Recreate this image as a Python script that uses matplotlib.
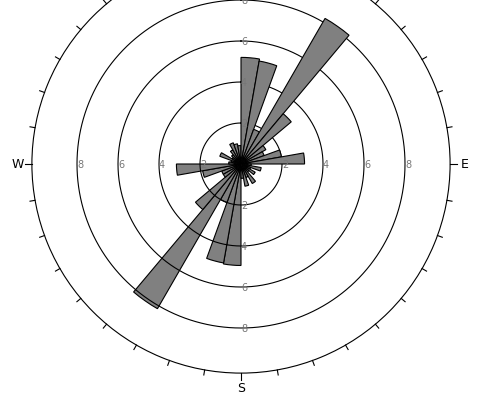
import matplotlib.pyplot as plt
import numpy as np

# 10-degree bins, clockwise from north
bin_starts = np.arange(0, 360, 10)
# east half (0-180) and west half (180-360) lengths
east_counts = [5.2, 5.1, 1.8, 8.2, 3.2, 1.4, 1.2, 2.0, 3.1, 0.5, 1.0, 0.5, 0.8, 0.5, 1.1, 0.7, 1.1, 0.7]
west_counts = [4.95, 4.9, 2.0, 8.15, 2.9, 1.0, 1.0, 1.9, 3.15, 0.6, 0.5, 1.1, 0.5, 0.6, 0.8, 1.1, 1.0, 0.9]
rings = [2, 4, 6, 8]
ring_labels = ['2', '4', '6', '8']
compass = {'E': 90, 'S': 180, 'W': 270}

r_outer = 10.2
px_unit = 20.5
cx, cy = 241, 414 - 165
rad_px = r_outer * px_unit

fig = plt.figure(figsize=(4.95, 4.14), dpi=100)
ax = fig.add_axes([(cx - rad_px) / 495, (cy - rad_px) / 414, 2 * rad_px / 495, 2 * rad_px / 414],
                  projection='polar')
ax.set_theta_zero_location('N')
ax.set_theta_direction(-1)

width = np.deg2rad(10)
east_theta = np.deg2rad(bin_starts[:18] + 5)
west_theta = np.deg2rad(bin_starts[18:] + 5)

# west half sits under the rings, east half on top
ax.bar(west_theta, west_counts, width=width, color='#808080', edgecolor='black', linewidth=0.8, zorder=1)
ax.bar(east_theta, east_counts, width=width, color='#808080', edgecolor='black', linewidth=0.8, zorder=3)

theta = np.linspace(0, 2 * np.pi, 721)
for r in rings:
    ax.plot(theta, np.full_like(theta, r), color='black', linewidth=0.8, zorder=2)

# ring labels on the four cardinal directions
for ang in [0, 90, 180, 270]:
    for r, lab in zip(rings, ring_labels):
        ax.text(np.deg2rad(ang), r, lab, ha='left', va='center', fontsize=7, color='#777777', zorder=5)

# ticks around the outer circle
for a in range(0, 360, 10):
    length = 0.33 if a % 90 == 0 else 0.25
    th = np.deg2rad(a)
    ax.plot([th, th], [r_outer, r_outer + length], color='black', linewidth=0.8, clip_on=False)

for lab, ang in compass.items():
    ax.text(np.deg2rad(ang), 10.9, lab, ha='center', va='center', fontsize=9)

ax.set_ylim(0, r_outer)
ax.set_xticks([])
ax.set_yticks([])
ax.grid(False)
ax.spines['polar'].set_linewidth(0.8)

plt.savefig('out.png', dpi=100)
